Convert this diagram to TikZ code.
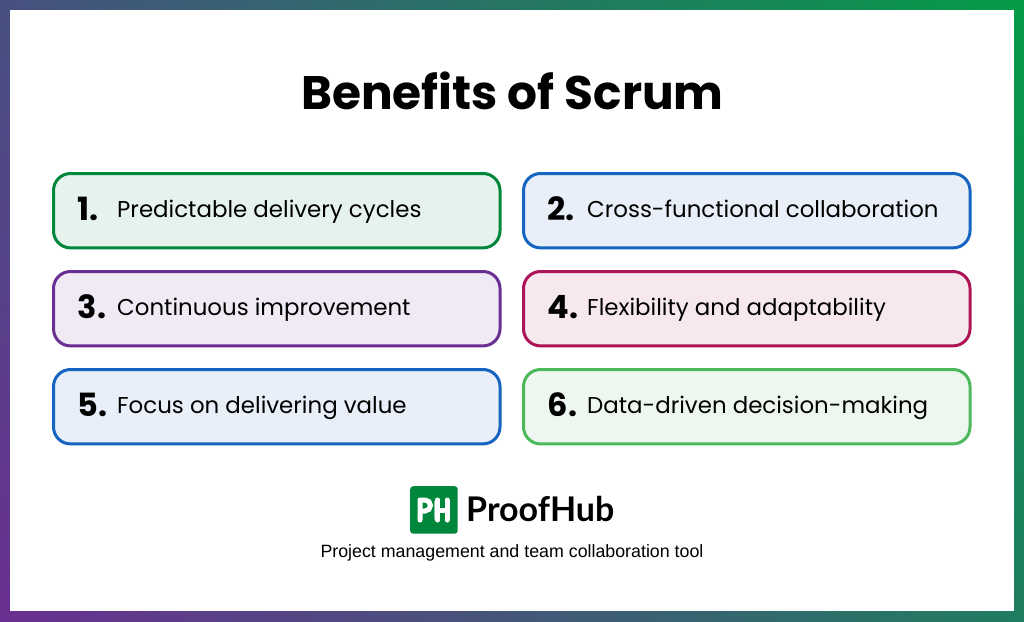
\documentclass[tikz,border=0pt]{standalone}
\usepackage{fontspec}
\setmainfont{Poppins}
\newfontfamily\subfont{Liberation Sans}
\newfontfamily\brandfont{Lato}
\usetikzlibrary{positioning,shadings}
\definecolor{grnA}{HTML}{00873C}
\definecolor{grnAf}{HTML}{E6F3EC}
\definecolor{bluA}{HTML}{1565C0}
\definecolor{bluAf}{HTML}{E8EFF8}
\definecolor{purA}{HTML}{6A2F92}
\definecolor{purAf}{HTML}{F0EAF4}
\definecolor{redA}{HTML}{AD1457}
\definecolor{redAf}{HTML}{F7E8EE}
\definecolor{grnB}{HTML}{4CB85C}
\definecolor{grnBf}{HTML}{EDF7EF}
\definecolor{edgeUL}{HTML}{475080}
\definecolor{edgeUR}{HTML}{059B48}
\definecolor{edgeLL}{HTML}{6A2F92}
\definecolor{edgeLR}{HTML}{1F7D60}
\tikzset{
  card/.style={draw=#1,fill=#1f,line width=3pt,rounded corners=17pt,outer sep=0pt,minimum width=446.5pt,minimum height=74.4pt,inner sep=0pt},
  num/.style={font=\fontsize{32}{32}\selectfont\bfseries,text=black,inner sep=0pt,anchor=base west},
  lbl/.style={font=\fontsize{22.9}{24}\selectfont,text=black,inner sep=0pt,anchor=base west}
}
\begin{document}
\begin{tikzpicture}[x=1pt,y=-1pt]
   \useasboundingbox (0,0) rectangle (1024,621);
   \shade[upper left=edgeUL,upper right=edgeUR,lower left=edgeLL,lower right=edgeLR] (0,0) rectangle (1024,621);
   \fill[white] (10,10) rectangle (1014,611);
   \node[font=\fontsize{47}{47}\selectfont\bfseries,inner sep=0pt,anchor=base] (title) at (512.5,109) {Benefits of Scrum};
   % cards
   \node[card=grnA,anchor=north west] (c1) at (53.5,173.5) {};
   \node[card=bluA,right=23.5pt of c1] (c2) {};
   \node[card=purA,below=23.6pt of c1] (c3) {};
   \node[card=redA,right=23.5pt of c3] (c4) {};
   \node[card=bluA,below=23.6pt of c3] (c5) {};
   \node[card=grnB,right=23.5pt of c5] (c6) {};
   \foreach \i/\t in {1/Predictable delivery cycles,3/Continuous improvement,5/Focus on delivering value,
                      2/Cross-functional collaboration,4/Flexibility and adaptability,6/Data-driven decision-making}{
     \node[num] (n\i) at ([xshift=24pt,yshift=-10pt]c\i.west) {\i.};
     \node[lbl] (t\i) at ([xshift=63.5pt,yshift=-7pt]c\i.west) {\t};
   }
   % logo
   \node[fill=grnA,rounded corners=3pt,minimum size=47.5pt,inner sep=0pt,anchor=north west] (logo) at (410,486) {};
   \draw[white,line width=5pt,line cap=round] (420,500) -- (420,520) (420,500) -- (425,500) arc (-90:90:5.5) -- (420,511);
   \draw[white,line width=5pt,line cap=round] (447,500) -- (447,520) (437.5,500) -- (437.5,520) (437.5,510) -- (447,510);
   \draw[grnAf!60!grnA,line width=1pt,line cap=round] (434.5,501) -- (434.5,519);
   \node[font=\brandfont\fontsize{34}{34}\selectfont\bfseries,inner sep=0pt,anchor=base west] (brand) at (466,521) {ProofHub};
   \node[font=\subfont\fontsize{17.8}{17.8}\selectfont,inner sep=0pt,anchor=base] (sub) at (512,557) {Project management and team collaboration tool};
  \end{tikzpicture}
\end{document}
